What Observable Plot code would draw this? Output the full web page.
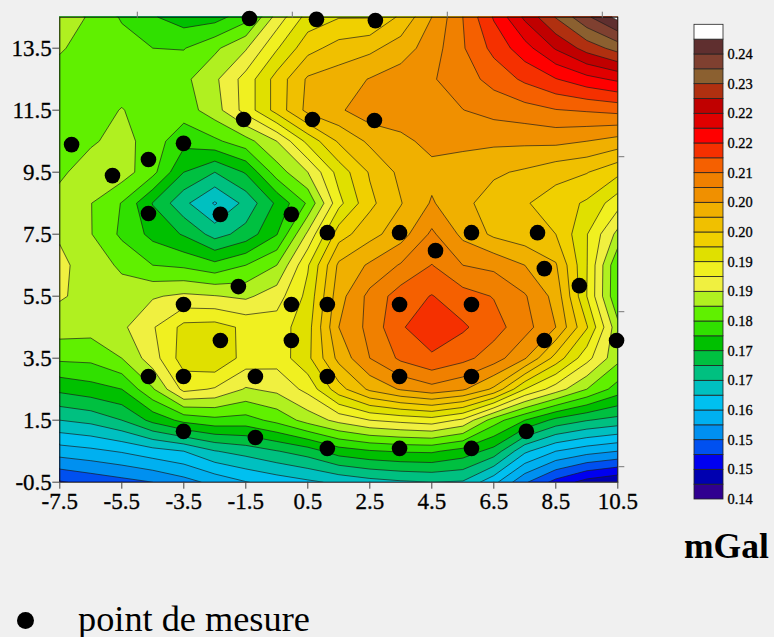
<!DOCTYPE html>
<html>
<head>
<meta charset="utf-8">
<style>
  html, body { margin: 0; padding: 0; background: #f0f0f0; width: 774px; height: 637px; overflow: hidden; }
  #main, #legend, .t, .key { position: absolute; }
  #main { left: 0; top: 0; }
  #legend { left: 660px; top: 0; }
  .t { font-family: "Liberation Serif", serif; color: #000; line-height: 1; white-space: nowrap; }
  svg { background: transparent !important; display: block; }
  svg text { stroke: #000; stroke-width: 0.3px; }
  .key { left: 17px; top: 612px; width: 17px; height: 17px; border-radius: 50%; background: #000; }
</style>
<script src="https://cdn.jsdelivr.net/npm/d3@7"></script>
<script src="https://cdn.jsdelivr.net/npm/@observablehq/plot@0.6"></script>
</head>
<body>
<div id="main"></div>
<div id="legend"></div>
<div class="t" style="left:684px;top:528.5px;font-size:35.5px;font-weight:bold">mGal</div>
<div class="key"></div>
<div class="t" style="left:78px;top:600.5px;font-size:36.3px">point de mesure</div>
<script>
// Gravity field, in contour-interval numbers
// (0 = 0.14 mGal, each interval = 1/300 mGal). Columns x = -7.5 ... 10.5.
const r145 = [13.9,12.8,11.9,11.1,10.5,10.6,11.6,14.4,16.4,16.95,16.95,18.2,20.0,22.0,24.1,26.2,28.05,29.8,31.3];
const r135 = [13.1,12.6,12.4,12.0,11.95,12.8,13.9,15.9,17.65,18.4,18.75,19.5,20.5,21.9,23.3,24.6,26.1,27.4,28.4];
const r125 = [12.6,12.5,12.5,12.5,12.75,13.8,15.4,17.4,19.15,19.5,20.05,20.5,20.9,21.55,22.35,23.2,23.95,24.65,25.2];
const r115 = [12.5,12.55,13.05,12.5,12.5,13.55,15.4,17.4,19.3,19.85,20.6,20.6,20.9,20.98,21.35,21.6,21.95,22.1,22.3];
const r105 = [12.4,12.85,13.4,12.5,11.3,11.8,12.6,14.0,16.3,18.14,19.2,19.75,20.3,20.25,20.2,20.2,20.25,20.0,19.6];
const r95  = [12.8,13.55,13.5,12.3,10.0,9.0,10.1,12.5,14.0,16.4,18.1,19.25,19.7,19.5,19.15,18.85,18.35,18.05,17.25];
const r85  = [13.4,13.03,11.95,9.95,8.25,6.9,8.3,10.2,12.15,15.7,17.75,18.95,20.1,19.25,18.55,18.1,17.5,16.85,15.4];
const r75  = [13.9,13.05,11.8,10.7,9.9,8.6,9.4,10.95,14.2,17.55,18.65,19.55,21.2,19.75,18.8,18.4,18.0,16.05,13.7];
const r65  = [14.2,13.6,12.8,12.0,11.8,11.3,12.0,13.0,15.9,19.2,20.15,21.1,22.03,21.0,20.75,20.0,19.1,16.05,12.1];
const r55  = [14.1,13.7,13.5,13.9,14.2,14.05,13.8,14.55,16.3,19.6,21.3,22.5,23.05,22.4,21.95,21.1,19.65,16.0,12.05];
const r45  = [13.5,13.4,13.8,14.9,16.3,16.4,15.8,15.5,16.6,20.0,21.3,22.9,23.6,23.15,22.4,21.4,20.0,17.1,13.3];
const r35  = [12.2,12.25,13.0,14.55,16.5,16.9,15.6,15.4,16.75,19.3,21.0,22.2,22.85,22.3,21.5,20.1,17.6,15.35,13.3];
const r25  = [10.25,10.6,11.0,12.9,15.3,14.9,13.9,14.25,15.3,17.6,19.2,20.1,20.65,20.15,18.8,16.0,14.5,13.0,11.55];
const r15  = [8.0,8.3,9.0,10.3,11.3,11.7,11.6,12.3,13.4,14.3,15.0,15.3,15.55,14.8,12.5,11.0,9.7,9.05,8.65];
const r05  = [5.5,5.75,6.1,6.6,7.0,7.95,8.4,8.95,9.5,10.5,10.9,11.1,11.15,10.6,9.6,7.2,6.0,5.4,5.0];
const rm05 = [2.9,3.3,3.65,4.0,4.6,5.3,5.95,6.4,6.8,7.2,7.6,7.85,8.0,7.9,6.3,4.15,2.65,1.6,1.1];

const pointX = [-1.38,0.78,2.68,-7.12,-5.80,-4.64,-3.51,-1.57,0.65,2.65,-4.64,-2.32,-0.03,1.13,3.46,5.78,7.91,4.62,-1.74,8.13,9.26,-3.51,-0.03,1.13,3.46,5.78,-2.32,-0.03,8.13,10.46,-4.64,-3.51,-1.19,1.13,3.46,5.78,-3.51,-1.19,1.13,3.46,5.78,7.55];
const pointY = [14.46,14.43,14.39,10.39,9.39,9.91,10.43,11.2,11.2,11.17,8.17,8.14,8.14,7.55,7.55,7.55,7.55,6.97,5.81,6.39,5.84,5.23,5.23,5.23,5.23,5.23,4.07,4.07,4.07,4.07,2.91,2.91,2.91,2.91,2.91,2.91,1.14,0.94,0.59,0.59,0.59,1.14];

const bandColors = ["#300090","#0000b0","#0000f0","#0050f0","#0090f0","#00b0f0","#00c0f0","#00c0c0","#00c080","#00c040","#00c000","#30e000","#60f000","#b0f020","#f0f040","#f0f020","#e0e000","#f0d000","#f0c000","#f0b000","#f09000","#f08000","#f56000","#f53000","#ff0000","#e00000","#c00000","#b03010","#8b6030","#7f4030","#5f2f2f","#ffffff"];
const legendLabels = ["0.14","0.15","0.15","0.16","0.17","0.17","0.18","0.19","0.19","0.20","0.20","0.21","0.22","0.22","0.23","0.24"];
const xTicks = [-7.5,-5.5,-3.5,-1.5,0.5,2.5,4.5,6.5,8.5,10.5];
const yTicks = [-0.5,1.5,3.5,5.5,7.5,9.5,11.5,13.5];
const xMinor = [-5,0,5,10];
const yMinor = [0,5,10];

const grid = [r145,r135,r125,r115,r105,r95,r85,r75,r65,r55,r45,r35,r25,r15,r05,rm05].flat();
const levels = bandColors.map((c, i) => i);
const points = pointX.map((x, i) => ({x, y: pointY[i]}));
const serif = "Liberation Serif";
const fmt = d => d.toFixed(1);

const chart = Plot.plot({
  width: 680, height: 520,
  marginLeft: 59.3, marginRight: 62.7, marginTop: 16.7, marginBottom: 38.3,
  style: {background: "transparent", overflow: "visible"},
  x: {domain: [-7.5, 10.5], label: null},
  y: {domain: [-0.5, 14.5], label: null},
  color: {type: "threshold", domain: levels.slice(1), range: bandColors},
  marks: [
    Plot.contour(grid, {
      width: 19, height: 16, x1: -8, x2: 11, y1: 15, y2: -1,
      value: d => d, thresholds: levels, fill: "value", stroke: "#1a1a1a", strokeWidth: 0.8, strokeOpacity: 0.85, clip: true
    }),
    Plot.frame({stroke: "#111"}),
    Plot.axisX(xTicks, {anchor: "bottom", tickSize: 7, tickPadding: 3, tickFormat: fmt, fontSize: 23, fontFamily: serif, stroke: "#444", fill: "#000", label: null}),
    Plot.axisY(yTicks, {anchor: "left", tickSize: 7, tickPadding: 1, tickFormat: fmt, fontSize: 23, fontFamily: serif, stroke: "#444", fill: "#000", label: null}),
    Plot.axisX(xMinor, {anchor: "top", tickSize: 6, tickFormat: () => "", stroke: "#777", label: null}),
    Plot.axisY(yMinor, {anchor: "right", tickSize: 6, tickFormat: () => "", stroke: "#777", label: null}),
    Plot.dot(points, {x: "x", y: "y", r: 7.8, fill: "#000", stroke: "none"})
  ]
});
document.getElementById("main").appendChild(chart);

const legend = Plot.plot({
  width: 114, height: 520,
  marginLeft: 34, marginRight: 51, marginTop: 24.3, marginBottom: 21,
  style: {background: "transparent", overflow: "visible"},
  x: {domain: [0, 1], axis: null},
  y: {domain: [0, 32], label: null},
  color: {type: "identity"},
  marks: [
    Plot.rect(bandColors, {x1: 0, x2: 1, y1: (d, i) => i, y2: (d, i) => i + 1, fill: d => d, stroke: "#222", strokeWidth: 0.8}),
    Plot.axisY(levels.filter(k => k % 2 === 0), {anchor: "right", tickSize: 0, tickPadding: 4, fontSize: 14.4, fontFamily: serif, fill: "#000", label: null, tickFormat: k => legendLabels[k / 2]})
  ]
});
document.getElementById("legend").appendChild(legend);
</script>
</body>
</html>
